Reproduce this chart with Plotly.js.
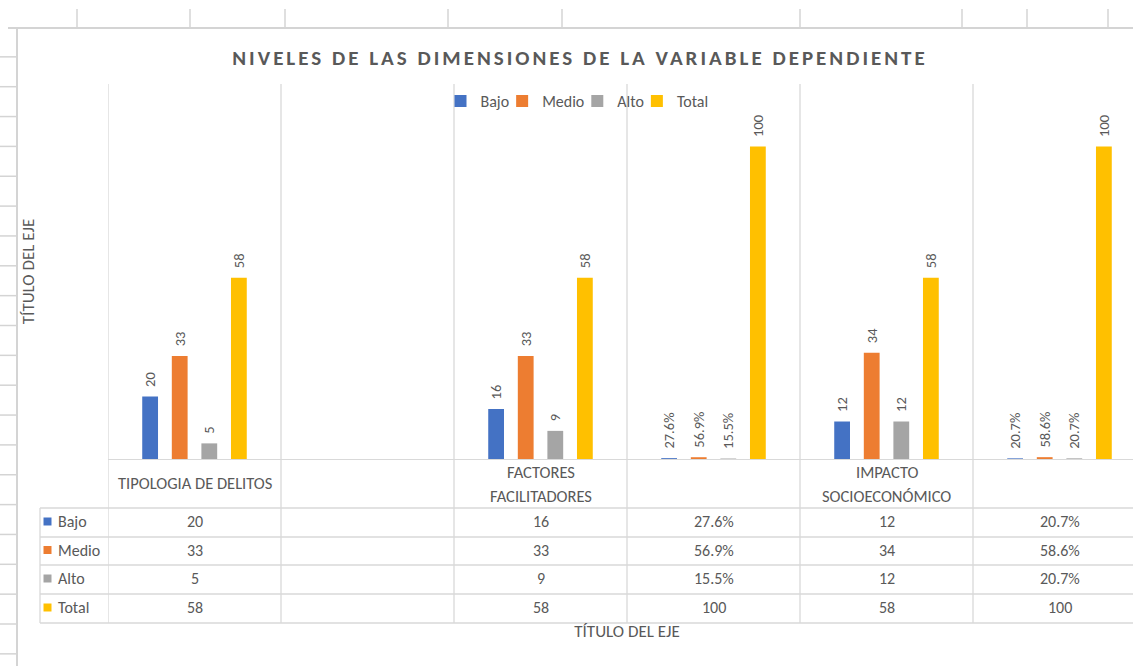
<!DOCTYPE html>
<html>
<head>
<meta charset="utf-8">
<script src="https://cdn.plot.ly/plotly-3.0.1.min.js"></script>
<style>
html, body { margin:0; padding:0; overflow:hidden; background:#fff; }
#chart { width:1146px; height:666px; }
.gtitle { letter-spacing: 3px; }
</style>
</head>
<body>
<div id="chart"></div>
<script>
// ---- data ----
const categories = ["TIPOLOGIA DE DELITOS", "", "FACTORES<br>FACILITADORES", "", "IMPACTO<br>SOCIOECONÓMICO", ""];
const formats = ["n", "", "n", "pct", "n", "pct"];
const seriesNames = ["Bajo", "Medio", "Alto", "Total"];
const bajo  = [20, null, 16, 0.276, 12, 0.207];
const medio = [33, null, 33, 0.569, 34, 0.586];
const alto  = [5,  null, 9,  0.155, 12, 0.207];
const total = [58, null, 58, 100,   58, 100];
const colors = ["#4472C4", "#ED7D31", "#A5A5A5", "#FFC000"];
const chartTitle = "NIVELES DE LAS DIMENSIONES DE LA VARIABLE DEPENDIENTE";
const axisTitle = "TÍTULO DEL EJE";

const seriesValues = [bajo, medio, alto, total];
const FONT = "Carlito, Lato, 'Open Sans', sans-serif";
const TXT = "#595959";
const GRID = "#d9d9d9";

function fmt(v, f) {
  if (v === null || v === undefined) return "";
  if (f === "pct" && v < 1) return (v * 100).toFixed(1) + "%";
  return String(v);
}

const xIdx = categories.map((c, i) => i);
const NB = "\u00A0\u00A0";

const traces = seriesValues.map((vals, s) => ({
  type: "bar",
  name: seriesNames[s],
  x: xIdx,
  y: vals,
  marker: { color: colors[s] },
  text: vals.map((v, i) => v === null ? "" : NB + fmt(v, formats[i])),
  textposition: "outside",
  textangle: -90,
  constraintext: "none",
  cliponaxis: false,
  textfont: { family: FONT, size: 14.5, color: TXT },
  hoverinfo: "skip"
}));

// geometry helpers (paper coords relative to plot area: left 108, right 1146, top 84, bottom 459)
const L = 108, R = 1146, T = 84, B = 459;
const px = p => (p - L) / (R - L);
const py = p => (B - p) / (B - T);

const shapes = [];
const annotations = [];

// vertical category boundaries
for (let i = 0; i <= categories.length; i++) {
  shapes.push({ type: "line", xref: "x", yref: "paper", x0: i - 0.5, x1: i - 0.5, y0: 1, y1: py(623),
    line: { color: GRID, width: 1.3 } });
}
// table horizontal lines
[508, 537, 565, 594, 623].forEach(yy => {
  shapes.push({ type: "line", xref: "paper", yref: "paper", x0: px(40), x1: 1, y0: py(yy), y1: py(yy),
    line: { color: GRID, width: 1.3 } });
});
// table left border
shapes.push({ type: "line", xref: "paper", yref: "paper", x0: px(40), x1: px(40), y0: py(508), y1: py(623),
  line: { color: GRID, width: 1.3 } });

// chart frame (excel sheet border) and sheet gridline stubs
shapes.push({ type: "line", xref: "paper", yref: "paper", x0: px(8), x1: 1, y0: py(28), y1: py(28),
  line: { color: "#d4d4d4", width: 2 } });
shapes.push({ type: "line", xref: "paper", yref: "paper", x0: px(17), x1: px(17), y0: py(28), y1: py(666),
  line: { color: "#d4d4d4", width: 2 } });
[77, 190, 285, 448, 562, 800, 962, 1027, 1108].forEach(xx => {
  shapes.push({ type: "line", xref: "paper", yref: "paper", x0: px(xx), x1: px(xx), y0: py(9), y1: py(28),
    line: { color: "#d4d4d4", width: 1.5 } });
});
for (let k = 1; k < 22; k++) {
  const yy = 27 + 29.85 * k;
  shapes.push({ type: "line", xref: "paper", yref: "paper", x0: px(0), x1: px(17), y0: py(yy), y1: py(yy),
    line: { color: "#d4d4d4", width: 1.5 } });
}

// category labels
categories.forEach((c, i) => {
  if (!c) return;
  const lines = c.split("<br>");
  const center = 483.5, step = 24;
  lines.forEach((ln, j) => {
    const yy = center + (j - (lines.length - 1) / 2) * step;
    annotations.push({ xref: "x", yref: "paper", x: i, y: py(yy), text: ln, showarrow: false,
      xanchor: "center", yanchor: "middle", font: { family: FONT, size: 16.5, color: TXT } });
  });
});

// data table rows
const rowCenters = [521.5, 550, 578.5, 607.5];
seriesValues.forEach((vals, s) => {
  const yc = rowCenters[s];
  shapes.push({ type: "rect", xref: "paper", yref: "paper", x0: px(43.5), x1: px(51.5), y0: py(yc + 4), y1: py(yc - 4),
    fillcolor: colors[s], line: { width: 0 } });
  annotations.push({ xref: "paper", yref: "paper", x: px(56), y: py(yc), text: seriesNames[s], showarrow: false,
    xanchor: "left", yanchor: "middle", font: { family: FONT, size: 16, color: TXT } });
  vals.forEach((v, i) => {
    if (v === null) return;
    annotations.push({ xref: "x", yref: "paper", x: i, y: py(yc), text: fmt(v, formats[i]), showarrow: false,
      xanchor: "center", yanchor: "middle", font: { family: FONT, size: 16, color: TXT } });
  });
});

const layout = {
  width: 1146, height: 666,
  margin: { l: L, r: 1146 - R, t: T, b: 666 - B, pad: 0 },
  paper_bgcolor: "#fff", plot_bgcolor: "#fff",
  font: { family: FONT, color: TXT },
  title: { text: "<b>" + chartTitle + "</b>", x: 580 / 1146, xref: "container", xanchor: "center",
    y: 1 - 58 / 666, yref: "container", yanchor: "middle",
    font: { family: FONT, size: 21, color: TXT } },
  barmode: "group",
  bargap: 0.316,
  bargroupgap: 0.466,
  showlegend: true,
  legend: { orientation: "h", x: px(583), xanchor: "center", y: py(101), yanchor: "middle",
    font: { family: FONT, size: 16, color: TXT }, traceorder: "normal", itemwidth: 30,
    indentation: -12, bgcolor: "rgba(0,0,0,0)" },
  xaxis: { range: [-0.5, 5.5], showticklabels: false, showgrid: false, zeroline: false,
    showline: true, linecolor: GRID, linewidth: 1.3, ticks: "", fixedrange: true,
    title: { text: axisTitle, font: { family: FONT, size: 17, color: TXT }, standoff: 165 } },
  yaxis: { range: [0, 120], showticklabels: false, showgrid: false, zeroline: false,
    showline: false, ticks: "", fixedrange: true,
    title: { text: axisTitle, font: { family: FONT, size: 17, color: TXT }, standoff: 68 } },
  shapes: shapes,
  annotations: annotations
};

Plotly.newPlot("chart", traces, layout, { displayModeBar: false, staticPlot: true });
</script>
</body>
</html>
